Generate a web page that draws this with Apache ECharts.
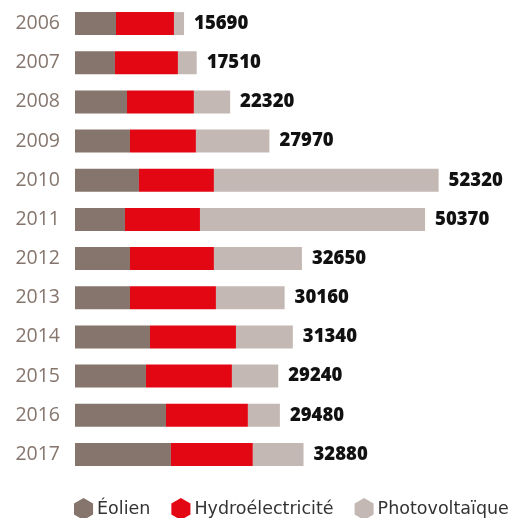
<!DOCTYPE html>
<html>
<head>
<meta charset="utf-8">
<script src="https://cdn.jsdelivr.net/npm/echarts@6/dist/echarts.min.js"></script>
<style>
  html, body { margin: 0; padding: 0; background: #fff; }
  #chart { width: 518px; height: 518px; }
</style>
</head>
<body>
<div id="chart"></div>
<script>
// years, top to bottom
const years = ['2006', '2007', '2008', '2009', '2010', '2011', '2012', '2013', '2014', '2015', '2016', '2017'];
// segment values
const eolien = [5900, 5750, 7480, 7910, 9200, 7190, 7910, 7910, 10790, 10210, 13090, 13800];
const hydro = [8340, 9060, 9630, 9490, 10790, 10790, 12080, 12370, 12370, 12370, 11790, 11790];
const photo = [1450, 2700, 5210, 10570, 32330, 32390, 12660, 9880, 8180, 6660, 4600, 7290];
// printed totals
const totals = [15690, 17510, 22320, 27970, 52320, 50370, 32650, 30160, 31340, 29240, 29480, 32880];

const FONT = '"Open Sans", sans-serif';
const WIDE = '"DejaVu Sans", sans-serif';
// pointy-top hexagon for legend markers
const HEX = 'path://M50,0 L93.3,25 L93.3,75 L50,100 L6.7,75 L6.7,25 Z';

const chart = echarts.init(document.getElementById('chart'), null, { renderer: 'canvas' });

const base = { type: 'bar', stack: 'total', barWidth: 23, silent: true };

chart.setOption({
    animation: false,
    textStyle: { fontFamily: FONT },
    grid: { left: 75, right: 26, top: 4, bottom: 44, containLabel: false },
    xAxis: {
        type: 'value', min: 0, max: 60000,
        show: false
    },
    yAxis: {
        type: 'category', data: years, inverse: true,
        axisLine: { show: false }, axisTick: { show: false },
        axisLabel: { margin: 15, color: '#85756d', fontSize: 19.5, fontFamily: FONT }
    },
    legend: {
        top: 498, left: 74, padding: 0, itemGap: 21, itemWidth: 21, itemHeight: 22,
        icon: HEX,
        textStyle: { fontSize: 17.5, color: '#333', fontFamily: WIDE, padding: [0, 0, 0, -2] },
        data: ['Éolien', 'Hydroélectricité', 'Photovoltaïque']
    },
    series: [
        { ...base, name: 'Éolien', data: eolien, itemStyle: { color: '#85756d' } },
        { ...base, name: 'Hydroélectricité', data: hydro, itemStyle: { color: '#e30613' } },
        {
            ...base, name: 'Photovoltaïque', data: photo, itemStyle: { color: '#c3b8b3' },
            label: {
                show: true, position: 'right', distance: 10,
                color: '#111', fontWeight: 800, fontSize: 18.5, fontFamily: FONT,
                formatter: p => String(totals[p.dataIndex])
            }
        }
    ]
});
</script>
</body>
</html>
